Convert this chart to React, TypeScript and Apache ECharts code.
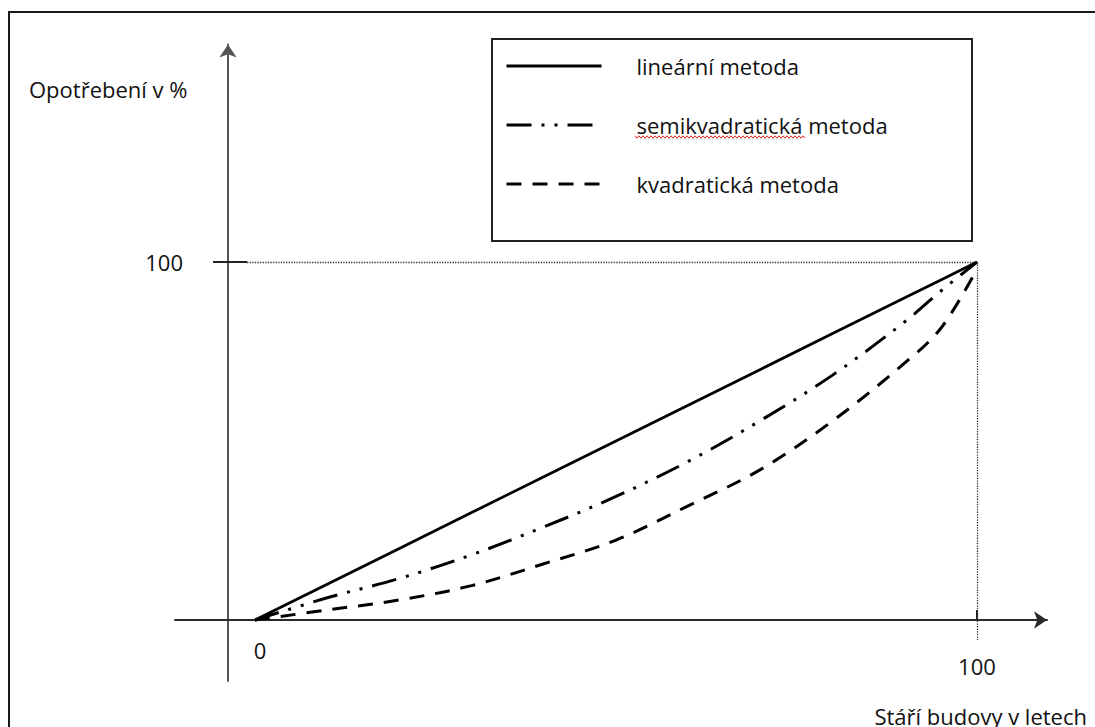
import React, { useEffect, useRef } from "react";
import * as echarts from "echarts";

// ---- data ----
const ages = [0, 10, 20, 30, 40, 50, 60, 70, 80, 90, 95, 100];
const linearWear = [0, 10, 20, 30, 40, 50, 60, 70, 80, 90, 95, 100];
const semiQuadraticWear = [0, 6.2, 11.6, 18.2, 26, 34.5, 44.3, 55.7, 68.4, 83.3, 91.9, 100];
const quadraticWear = [0, 2.8, 5.6, 9.6, 15.7, 22.3, 31.9, 42, 55.6, 71.8, 81.5, 98];
const seriesNames = ["lineární metoda", "semikvadratická metoda", "kvadratická metoda"];
const xTickValues = [0, 100];
const yTickValues = [100];
const yAxisTitle = "Opotřebení v %";
const xAxisTitle = "Stáří budovy v letech";

const FONT = "'Open Sans', 'Noto Sans', sans-serif";
const TEXT = "#111";

function pairs(xs: number[], ys: number[]) {
  return xs.map((x, i) => [x, ys[i]]);
}

export default function App() {
  const ref = useRef<HTMLDivElement>(null);

  useEffect(() => {
    if (!ref.current) return;
    const chart = echarts.init(ref.current, undefined, { renderer: "svg" });

    // wavy spell-check underline under "semikvadratická"
    const wave: number[][] = [];
    for (let x = 635, k = 0; x <= 805; x += 2, k++) {
      wave.push([x, 137 + (k % 2 === 0 ? -1.2 : 1.2)]);
    }

    const option: any = {
      animation: false,
      backgroundColor: "#fff",
      grid: {
        left: 175,
        right: 48,
        top: 44.5,
        bottom: 46,
        containLabel: false,
        outerBoundsMode: "none",
      },
      xAxis: [
        {
          type: "value",
          min: -11.08,
          max: 109.7,
          splitLine: { show: false },
          axisLine: {
            show: true,
            onZero: true,
            symbol: ["none", "arrow"],
            symbolSize: [13, 13],
            lineStyle: { color: "#2a2a2a", width: 2 },
          },
          axisTick: {
            show: true,
            customValues: [100],
            inside: true,
            length: 10,
            lineStyle: { color: "#222", width: 2 },
          },
          axisLabel: {
            show: true,
            customValues: xTickValues,
            margin: -42,
            formatter: (v: number) => (v === 0 ? `{a|${v}}` : `{b|${v}}`),
            rich: {
              a: { fontSize: 22, fontFamily: FONT, color: TEXT, padding: [0, 0, 0, 10] },
              b: { fontSize: 22, fontFamily: FONT, color: TEXT, padding: [16, 0, 0, 0] },
            },
          },
        },
        {
          // helper axis: its zero marks where the vertical axis line crosses
          type: "value",
          show: false,
          min: -53,
          max: 819,
        },
      ],
      yAxis: {
        type: "value",
        min: -17.04,
        max: 160.75,
        splitLine: { show: false },
        axisLine: {
          show: true,
          onZero: true,
          onZeroAxisIndex: 1,
          symbol: ["none", "arrow"],
          symbolSize: [13, 13],
          lineStyle: { color: "#555", width: 2 },
        },
        axisTick: {
          show: true,
          customValues: yTickValues,
          length: 15,
          lineStyle: { color: "#222", width: 2 },
        },
        axisLabel: {
          show: true,
          customValues: yTickValues,
          margin: -8,
          fontSize: 22,
          fontFamily: FONT,
          color: TEXT,
        },
      },
      legend: {
        data: seriesNames,
        orient: "vertical",
        left: 505,
        top: 55,
        padding: 0,
        itemGap: 37,
        itemWidth: 95,
        itemHeight: 22,
        selectedMode: false,
        lineStyle: { width: 3 },
        itemStyle: { color: "rgba(0,0,0,0)", borderWidth: 0, opacity: 0 },
        textStyle: {
          fontSize: 22,
          fontFamily: FONT,
          color: TEXT,
          lineHeight: 22,
          padding: [0, 0, 0, 30],
        },
      },
      series: [
        {
          name: seriesNames[0],
          type: "line",
          data: pairs(ages, linearWear),
          symbol: "none",
          lineStyle: { color: "#000", width: 2.8, cap: "butt" },
          z: 5,
          markLine: {
            silent: true,
            symbol: ["none", "none"],
            label: { show: false },
            z: 1,
            data: [
              [
                { coord: [-1.1, 100], lineStyle: { type: "dotted", width: 1.3, color: "#333" } },
                { coord: [100, 100] },
              ],
              [
                { coord: [-3.74, 100], lineStyle: { type: "solid", width: 2, color: "#222" } },
                { coord: [-1.1, 100] },
              ],
              [
                { coord: [100, 100], lineStyle: { type: "dotted", width: 1.3, color: "#333" } },
                { coord: [100, -5.6] },
              ],
            ],
          },
        },
        {
          name: seriesNames[1],
          type: "line",
          data: pairs(ages, semiQuadraticWear),
          symbol: "none",
          smooth: 0.35,
          lineStyle: { color: "#000", width: 3, type: [25, 10, 3, 10, 3, 10], cap: "butt" },
          z: 5,
        },
        {
          name: seriesNames[2],
          type: "line",
          data: pairs(ages, quadraticWear),
          symbol: "none",
          smooth: 0.35,
          lineStyle: { color: "#000", width: 3, type: [15, 11], cap: "butt" },
          z: 5,
        },
      ],
      graphic: [
        {
          type: "rect",
          shape: { x: 9, y: 12, width: 1100, height: 730 },
          style: { fill: "none", stroke: "#1a1a1a", lineWidth: 2 },
          silent: true,
        },
        {
          type: "rect",
          shape: { x: 492, y: 39, width: 480, height: 202 },
          style: { fill: "none", stroke: "#222", lineWidth: 2 },
          silent: true,
        },
        {
          type: "text",
          x: 29,
          y: 89,
          style: {
            text: yAxisTitle,
            fontSize: 22,
            fontFamily: FONT,
            fill: TEXT,
            verticalAlign: "middle",
            align: "left",
          },
          silent: true,
        },
        {
          type: "text",
          x: 1087,
          y: 716,
          style: {
            text: xAxisTitle,
            fontSize: 22,
            fontFamily: FONT,
            fill: TEXT,
            verticalAlign: "middle",
            align: "right",
          },
          silent: true,
        },
        {
          type: "polyline",
          shape: { points: wave },
          style: { stroke: "#e02828", lineWidth: 1, fill: "none" },
          silent: true,
        },
      ],
    };

    chart.setOption(option);
    return () => chart.dispose();
  }, []);

  return (
    <div
      ref={ref}
      style={{ position: "fixed", left: 0, top: 0, width: 1095, height: 727, background: "#fff" }}
    />
  );
}
